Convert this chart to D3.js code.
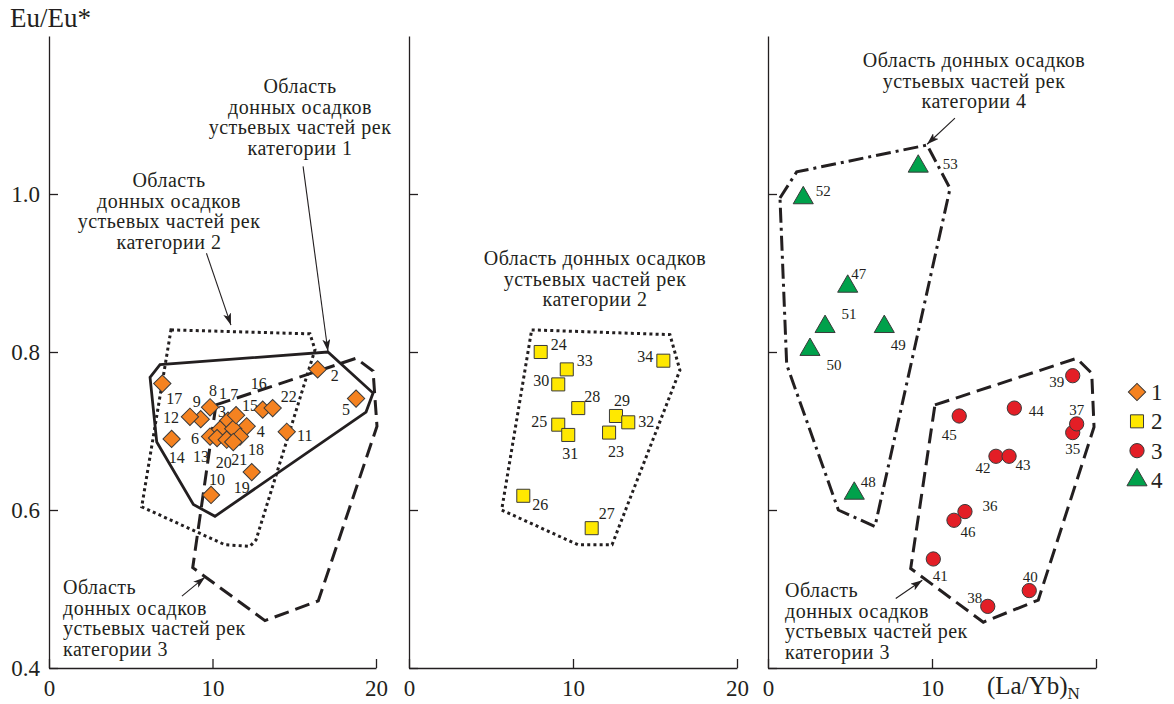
<!DOCTYPE html>
<html>
<head>
<meta charset="utf-8">
<script src="https://cdn.jsdelivr.net/npm/d3@7"></script>
<style>
  body { margin: 0; background: #fff; }
  text { font-family: "Liberation Serif", "DejaVu Serif", serif; fill: #231f20; }
</style>
</head>
<body>
<svg id="chart" width="1174" height="704"></svg>
<script>
// ---- data (x = (La/Yb)N, y = Eu/Eu*) ----
const cat1Pts = [
  {n: 1, x: 10.95, y: 0.713}, {n: 2, x: 16.43, y: 0.778}, {n: 3, x: 10.46, y: 0.702},
  {n: 4, x: 12.09, y: 0.706}, {n: 5, x: 18.78, y: 0.741}, {n: 6, x: 9.85, y: 0.693},
  {n: 7, x: 11.27, y: 0.703}, {n: 8, x: 9.85, y: 0.730}, {n: 9, x: 9.28, y: 0.715},
  {n: 10, x: 9.91, y: 0.619}, {n: 11, x: 14.54, y: 0.699}, {n: 12, x: 8.62, y: 0.718},
  {n: 13, x: 10.28, y: 0.691}, {n: 14, x: 7.50, y: 0.690}, {n: 15, x: 11.44, y: 0.720},
  {n: 16, x: 13.07, y: 0.727}, {n: 17, x: 6.93, y: 0.760}, {n: 18, x: 11.68, y: 0.693},
  {n: 19, x: 12.40, y: 0.648}, {n: 20, x: 10.87, y: 0.689}, {n: 21, x: 11.27, y: 0.686},
  {n: 22, x: 13.68, y: 0.729}
];
const cat2Pts = [
  {n: 23, x: 12.20, y: 0.698}, {n: 24, x: 8.03, y: 0.800}, {n: 25, x: 9.10, y: 0.708},
  {n: 26, x: 6.97, y: 0.618}, {n: 27, x: 11.14, y: 0.577}, {n: 28, x: 10.32, y: 0.729},
  {n: 29, x: 12.62, y: 0.719}, {n: 30, x: 9.10, y: 0.759}, {n: 31, x: 9.71, y: 0.695},
  {n: 32, x: 13.37, y: 0.711}, {n: 33, x: 9.62, y: 0.778}, {n: 34, x: 15.51, y: 0.789}
];
const cat3Pts = [
  {n: 35, x: 18.58, y: 0.698}, {n: 36, x: 12.01, y: 0.598}, {n: 37, x: 18.82, y: 0.709},
  {n: 38, x: 13.40, y: 0.478}, {n: 39, x: 18.58, y: 0.770}, {n: 40, x: 15.93, y: 0.498},
  {n: 41, x: 10.08, y: 0.538}, {n: 42, x: 13.90, y: 0.668}, {n: 43, x: 14.70, y: 0.668},
  {n: 44, x: 15.02, y: 0.729}, {n: 45, x: 11.66, y: 0.719}, {n: 46, x: 11.34, y: 0.587}
];
const cat4Pts = [
  {n: 47, x: 4.86, y: 0.883}, {n: 48, x: 5.26, y: 0.621}, {n: 49, x: 7.09, y: 0.832},
  {n: 50, x: 2.56, y: 0.803}, {n: 51, x: 3.48, y: 0.832}, {n: 52, x: 2.15, y: 0.995},
  {n: 53, x: 9.16, y: 1.035}
];

// field outlines
const field1Left = [[6.18,0.768],[6.79,0.784],[17.06,0.800],[19.82,0.748],[19.39,0.724],[10.15,0.592],[8.83,0.607],[6.59,0.686]];
const field2Left = [[7.46,0.828],[15.96,0.823],[16.27,0.803],[12.66,0.562],[12.29,0.554],[10.76,0.556],[5.67,0.604]];
const field3Left = [[10.21,0.733],[18.78,0.792],[19.82,0.776],[20.06,0.706],[16.47,0.485],[13.21,0.460],[8.79,0.527]];
const field2Mid = [[7.48,0.828],[15.91,0.822],[16.52,0.777],[12.38,0.556],[10.30,0.556],[5.65,0.600]];
const field4Right = [[0.73,0.995],[1.75,1.028],[9.70,1.062],[11.10,1.007],[6.52,0.579],[4.29,0.600],[1.14,0.784]];
const field3Right = [[10.18,0.733],[18.82,0.792],[19.74,0.773],[19.88,0.705],[16.48,0.486],[13.13,0.458],[8.70,0.526]];

const yTicks = [0.4, 0.6, 0.8, 1.0];
const xTicks = [0, 10, 20];
const legendItems = ["1", "2", "3", "4"];

const fieldText1 = ["Область", "донных осадков", "устьевых частей рек", "категории 1"];
const fieldText2 = ["Область", "донных осадков", "устьевых частей рек", "категории 2"];
const fieldText3 = ["Область", "донных осадков", "устьевых частей рек", "категории 3"];
const fieldText2Mid = ["Область донных осадков", "устьевых частей рек", "категории 2"];
const fieldText4 = ["Область донных осадков", "устьевых частей рек", "категории 4"];

// label offsets in px from the marker (layout only)
const labelOff = {
  1:[-5,-27], 2:[17,6], 3:[2,-18], 4:[14,5], 5:[-10,11], 6:[-15,2], 7:[1,-34], 8:[3,-17],
  9:[-4,-18], 10:[6,-16], 11:[18,4], 12:[-19,1], 13:[-16,18], 14:[5,18], 15:[14,-10],
  16:[-4,-26], 17:[12,15], 18:[16,13], 19:[-10,15], 20:[-3,23], 21:[6,17], 22:[16,-12],
  23:[7,19], 24:[18,-8], 25:[-19,-3], 26:[17,9], 27:[15,-15], 28:[14,-12], 29:[6,-16],
  30:[-17,-4], 31:[2,18], 32:[18,-1], 33:[18,-9], 34:[-18,-4],
  35:[0,16], 36:[25,-6], 37:[0,-14], 38:[-13,-9], 39:[-16,6], 40:[1,-14], 41:[7,17],
  42:[-13,11], 43:[14,8], 44:[22,3], 45:[-10,19], 46:[14,11],
  47:[11,-13], 48:[14,-12], 49:[14,18], 50:[24,15], 51:[24,-13], 52:[20,-7], 53:[32,-3]
};

// ---- drawing ----
const svg = d3.select("#chart");
const INK = "#231f20";

const yScale = d3.scaleLinear().domain([0.4, 1.2]).range([668, 36]);
const xLeft = d3.scaleLinear().domain([0, 20]).range([49, 376]);
const xMid = d3.scaleLinear().domain([0, 20]).range([409, 737]);
const xRight = d3.scaleLinear().domain([0, 20]).range([768, 1096]);

const STYLE = {
  1: {fill: "#f58220", sym: d3.symbolSquare, size: 150, rot: 45},
  2: {fill: "#ffe800", sym: d3.symbolSquare, size: 170, rot: 0},
  3: {fill: "#e31e26", sym: d3.symbolCircle, size: 160, rot: 0},
  4: {fill: "#00a14b", sym: d3.symbolTriangle, size: 175, rot: 0}
};

svg.append("defs").append("marker")
    .attr("id", "arrow")
    .attr("viewBox", "0 0 12 8")
    .attr("refX", 12).attr("refY", 4)
    .attr("markerWidth", 12).attr("markerHeight", 8)
    .attr("markerUnits", "userSpaceOnUse")
    .attr("orient", "auto")
  .append("path")
    .attr("d", "M0,0 L12,4 L0,8 L3,4 Z")
    .attr("fill", INK);

function drawAxes(x, showY, xFmt) {
  const ya = d3.axisLeft(yScale).tickValues(yTicks).tickSizeInner(-9).tickSizeOuter(0)
    .tickPadding(9).tickFormat(showY ? d3.format(".1f") : "");
  const gy = svg.append("g").attr("transform", `translate(${x.range()[0]},0)`).call(ya);
  const xa = d3.axisBottom(x).tickValues(xTicks).tickSizeInner(-9).tickSizeOuter(0)
    .tickPadding(12).tickFormat(xFmt);
  const gx = svg.append("g").attr("transform", `translate(0,${yScale(0.4)})`).call(xa);
  [gy, gx].forEach(g => {
    g.selectAll("path, line").attr("stroke", INK).attr("stroke-width", 1.3);
    g.selectAll("text").attr("font-size", 23).attr("fill", INK)
      .attr("font-family", "Liberation Serif, serif");
  });
}

drawAxes(xLeft, true, d => d);
drawAxes(xMid, false, d => d);
drawAxes(xRight, false, d => d === 20 ? "" : d);

function drawField(pts, x, dash, width) {
  const line = d3.line().x(d => x(d[0])).y(d => yScale(d[1])).curve(d3.curveLinearClosed);
  svg.append("path")
    .attr("d", line(pts))
    .attr("fill", "none")
    .attr("stroke", INK)
    .attr("stroke-width", width)
    .attr("stroke-dasharray", dash)
    .attr("stroke-linejoin", "miter");
}

const DOT = "3,3.2", DASH = "15,7", DASHDOT = "15,5,3,5";
drawField(field2Left, xLeft, DOT, 3);
drawField(field3Left, xLeft, DASH, 3);
drawField(field1Left, xLeft, null, 2.8);
drawField(field2Mid, xMid, DOT, 3);
drawField(field4Right, xRight, DASHDOT, 3);
drawField(field3Right, xRight, DASH, 3);

function drawArrow(x, from, to) {
  svg.append("line")
    .attr("x1", x(from[0])).attr("y1", yScale(from[1]))
    .attr("x2", x(to[0])).attr("y2", yScale(to[1]))
    .attr("stroke", INK).attr("stroke-width", 1.1)
    .attr("marker-end", "url(#arrow)");
}
drawArrow(xLeft, [15.54, 1.035], [17.06, 0.801]);
drawArrow(xLeft, [9.63, 0.925], [11.13, 0.834]);
drawArrow(xLeft, [8.13, 0.491], [9.54, 0.515]);
drawArrow(xRight, [11.40, 1.096], [9.70, 1.063]);
drawArrow(xRight, [7.79, 0.488], [9.41, 0.511]);

function drawText(lines, x0, y0, anchor) {
  lines.forEach((s, i) => {
    svg.append("text")
      .attr("font-size", 20)
      .attr("letter-spacing", 0.5)
      .attr("text-anchor", anchor)
      .attr("x", x0).attr("y", y0 + i * 20.6)
      .text(s);
  });
}
drawText(fieldText1, 300, 93, "middle");
drawText(fieldText2, 169, 187, "middle");
drawText(fieldText3, 63, 594, "start");
drawText(fieldText2Mid, 595, 265, "middle");
drawText(fieldText4, 974, 67, "middle");
drawText(fieldText3, 785, 597, "start");

function drawPoints(pts, x, cat, fs) {
  const st = STYLE[cat];
  const sym = d3.symbol().type(st.sym).size(st.size);
  const g = svg.append("g");
  g.selectAll("text").data(pts).join("text")
    .attr("x", d => x(d.x) + labelOff[d.n][0])
    .attr("y", d => yScale(d.y) + labelOff[d.n][1])
    .attr("dy", "0.35em")
    .attr("text-anchor", "middle")
    .attr("font-size", fs)
    .text(d => d.n);
  g.selectAll("path").data(pts).join("path")
    .attr("d", sym)
    .attr("transform", d => `translate(${x(d.x)},${yScale(d.y)}) rotate(${st.rot})`)
    .attr("fill", st.fill)
    .attr("stroke", "#3a3a3a")
    .attr("stroke-width", 1);
}
drawPoints(cat1Pts, xLeft, 1, 16);
drawPoints(cat2Pts, xMid, 2, 16);
drawPoints(cat3Pts, xRight, 3, 15);
drawPoints(cat4Pts, xRight, 4, 15);

// axis titles
svg.append("text").attr("x", 10).attr("y", 27).attr("font-size", 27).text("Eu/Eu*");
const xt = svg.append("text").attr("x", 987).attr("y", 694).attr("font-size", 25);
xt.append("tspan").text("(La/Yb)");
xt.append("tspan").attr("font-size", 17).attr("dy", 5).text("N");

// legend
const legendY = d3.scalePoint().domain(legendItems).range([392, 480]);
const lg = svg.append("g");
legendItems.forEach(k => {
  const st = STYLE[+k];
  lg.append("path")
    .attr("d", d3.symbol().type(st.sym).size(st.size)())
    .attr("transform", `translate(1137,${legendY(k)}) rotate(${st.rot})`)
    .attr("fill", st.fill).attr("stroke", "#3a3a3a").attr("stroke-width", 1);
  lg.append("text").attr("x", 1151).attr("y", legendY(k)).attr("dy", "0.35em")
    .attr("font-size", 23).text(k);
});
</script>
</body>
</html>
